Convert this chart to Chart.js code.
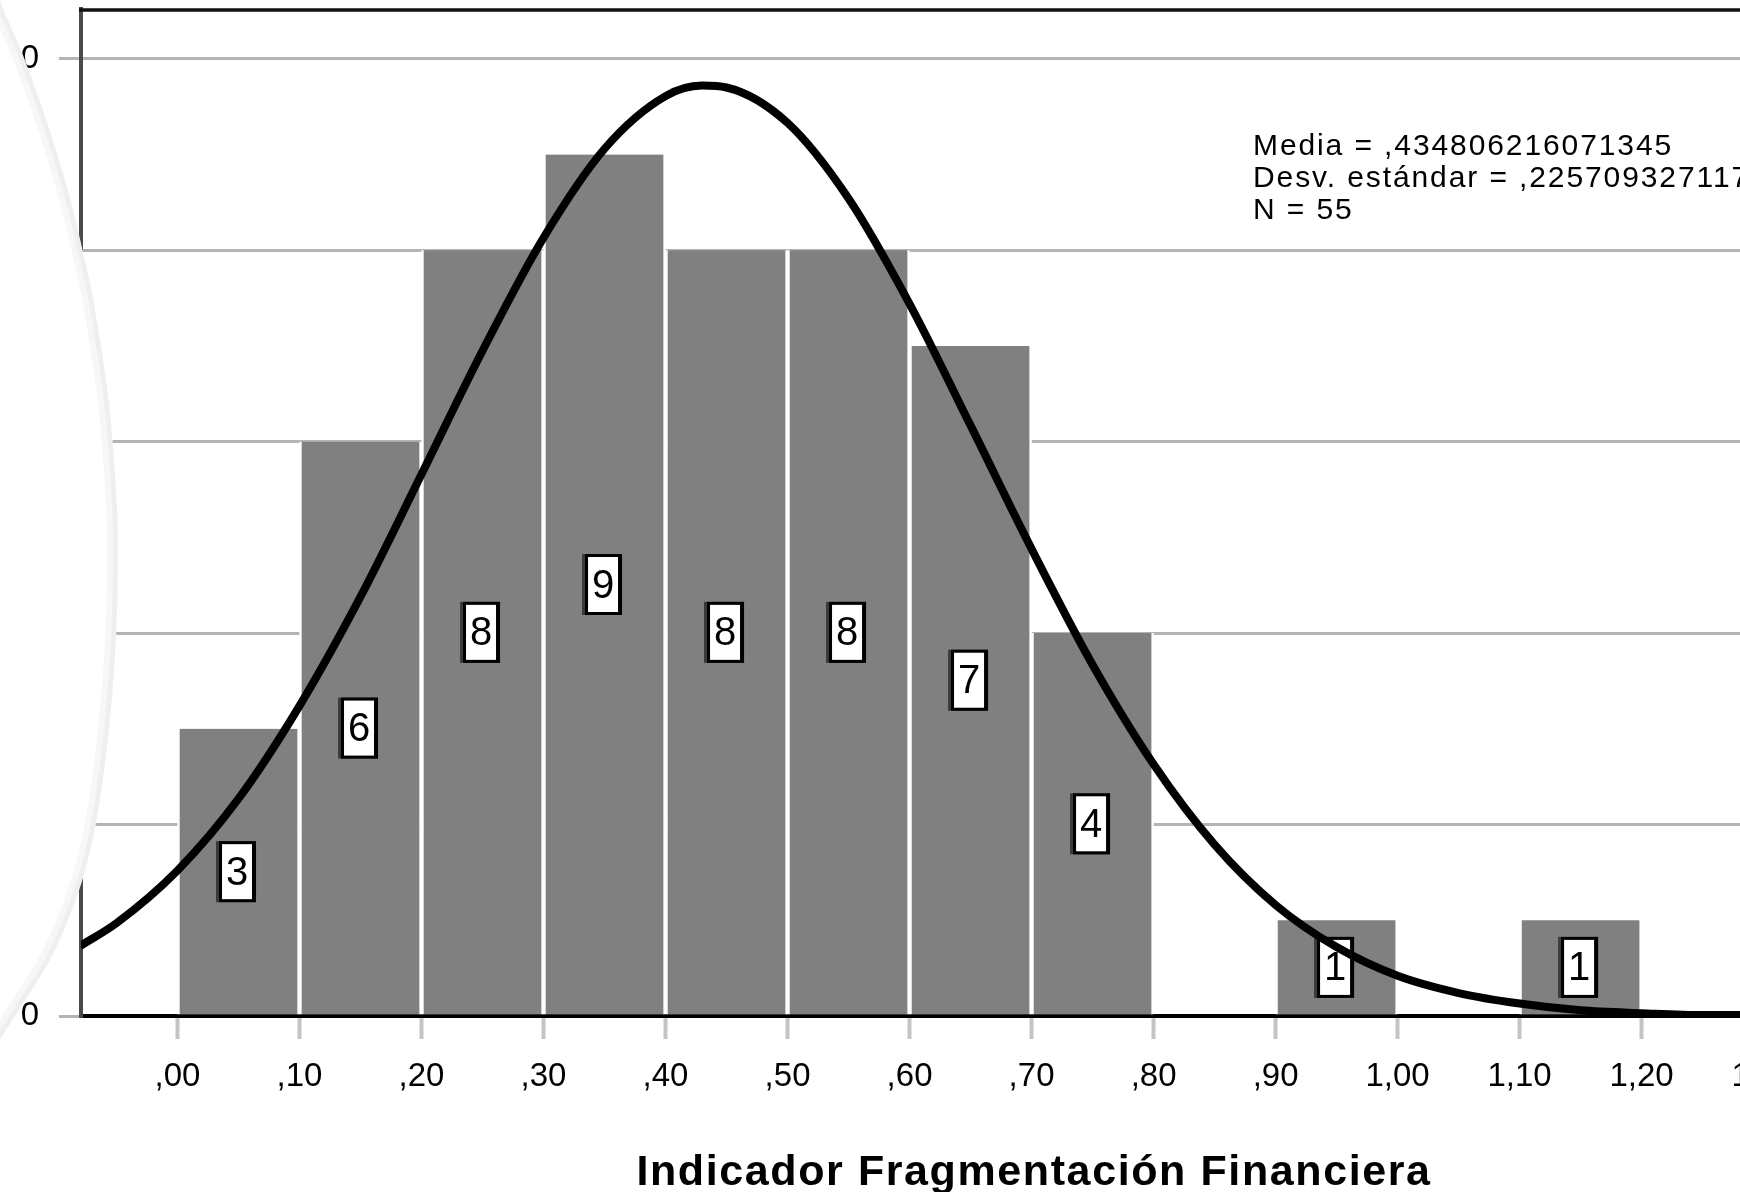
<!DOCTYPE html>
<html>
<head>
<meta charset="utf-8">
<script src="https://cdn.jsdelivr.net/npm/chart.js@4.4.0/dist/chart.umd.min.js"></script>
<style>
    html, body { margin: 0; padding: 0; background: #fff; overflow: hidden; width: 1740px; height: 1192px; }
    canvas { display: block; }
</style>
</head>
<body>
<canvas id="histChart" width="1800" height="1192"></canvas>
<script>
// Histogram bins (width 0,10) and counts
const binCenters = [0.05, 0.15, 0.25, 0.35, 0.45, 0.55, 0.65, 0.75, 0.85, 0.95, 1.05, 1.15];
const binCounts = [3, 6, 8, 9, 8, 8, 7, 4, 0, 1, 0, 1];

// Normal curve
const curveX = [-0.08, -0.05, 0.00, 0.05, 0.10, 0.15, 0.20, 0.25, 0.30, 0.35, 0.40, 0.43, 0.45, 0.50, 0.55, 0.60, 0.65, 0.70, 0.75, 0.80, 0.85, 0.90, 0.95, 1.00, 1.05, 1.10, 1.15, 1.20, 1.25, 1.30, 1.35];
const curveY = [0.73, 0.97, 1.52, 2.27, 3.24, 4.38, 5.66, 6.95, 8.13, 9.06, 9.61, 9.72, 9.70, 9.33, 8.54, 7.44, 6.17, 4.88, 3.67, 2.63, 1.79, 1.16, 0.72, 0.42, 0.24, 0.13, 0.06, 0.03, 0.01, 0.01, 0.00];

const statLines = ['Media = ,434806216071345', 'Desv. estándar = ,225709327117886', 'N = 55'];
const xTitle = 'Indicador Fragmentación Financiera';

const tickFont = "'Liberation Sans', Arial, sans-serif";

// Format ticks the SPSS way: ,10  1,00
function formatTick(v) {
    let s = v.toFixed(2).replace('.', ',');
    if (s.startsWith('0,')) s = s.slice(1);
    return s;
}

// White boxes with the count in the middle of each bar
const barLabels = {
    id: 'barLabels',
    afterDatasetDraw(chart, args) {
        if (args.index !== 0) return;
        const ctx = chart.ctx;
        ctx.save();
        args.meta.data.forEach((bar, i) => {
            const n = binCounts[i];
            if (!n) return;
            const cx = bar.x;
            const cy = (bar.y + bar.base) / 2;
            ctx.fillStyle = '#3a3a3a';
            ctx.fillRect(cx - 22.5, cy - 30.5, 40, 61);
            ctx.fillStyle = '#000';
            ctx.fillRect(cx - 19.5, cy - 30.5, 37, 61);
            ctx.fillStyle = '#fff';
            ctx.fillRect(cx - 16.5, cy - 27.5, 30, 55);
            ctx.fillStyle = '#000';
            ctx.font = '40px ' + tickFont;
            ctx.textAlign = 'center';
            ctx.textBaseline = 'middle';
            ctx.fillText(String(n), cx - 1.5, cy + 2);
        });
        ctx.restore();
    }
};

// Edge of the page curl on the left
function curlPath(ctx, closed) {
    const pts = [[-8, -40], [0, 0], [21, 50], [39.5, 100], [56, 150], [70.5, 200], [83, 252], [93.4, 300],
        [108.7, 400], [116.7, 500], [118, 560], [116, 640], [110, 720], [100, 800], [88, 860],
        [72, 910], [50, 960], [22, 1005], [0, 1040], [-20, 1075]];
    ctx.beginPath();
    if (closed) {
        ctx.moveTo(-40, -40);
        ctx.lineTo(pts[0][0], pts[0][1]);
    } else {
        ctx.moveTo(pts[0][0], pts[0][1]);
    }
    for (let i = 0; i < pts.length - 1; i++) {
        const p0 = pts[i - 1] || pts[i];
        const p1 = pts[i];
        const p2 = pts[i + 1];
        const p3 = pts[i + 2] || p2;
        ctx.bezierCurveTo(
            p1[0] + (p2[0] - p0[0]) / 6, p1[1] + (p2[1] - p0[1]) / 6,
            p2[0] - (p3[0] - p1[0]) / 6, p2[1] - (p3[1] - p1[1]) / 6,
            p2[0], p2[1]);
    }
    if (closed) {
        ctx.lineTo(-40, 1230);
        ctx.closePath();
    }
}

// Frame, axis title, statistics and the page curl
const decorations = {
    id: 'decorations',
    afterDraw(chart) {
        const ctx = chart.ctx;
        const area = chart.chartArea;
        ctx.save();
        ctx.strokeStyle = '#111';
        ctx.lineWidth = 3.5;
        ctx.beginPath();
        ctx.moveTo(area.left - 2, area.top + 1);
        ctx.lineTo(area.right, area.top + 1);
        ctx.stroke();

        ctx.fillStyle = '#000';
        ctx.font = 'bold 43px "Liberation Sans", Arial, sans-serif';
        ctx.letterSpacing = '1.6px';
        ctx.textAlign = 'center';
        ctx.textBaseline = 'alphabetic';
        ctx.fillText(xTitle, 1034, 1185);

        ctx.font = '30px "Liberation Sans", Arial, sans-serif';
        ctx.letterSpacing = '1.9px';
        ctx.textAlign = 'left';
        statLines.forEach((line, i) => {
            ctx.fillText(line, 1253, 155 + i * 32);
        });
        ctx.letterSpacing = '0px';

        curlPath(ctx, true);
        ctx.fillStyle = '#fff';
        ctx.fill();
        ctx.clip();
        curlPath(ctx, false);
        ctx.strokeStyle = 'rgba(0,0,0,0.03)';
        ctx.lineWidth = 22;
        ctx.stroke();
        ctx.lineWidth = 10;
        ctx.stroke();
        ctx.restore();
    }
};

const ctx = document.getElementById('histChart').getContext('2d');
new Chart(ctx, {
    type: 'bar',
    data: {
        datasets: [
            {
                type: 'bar',
                data: binCenters.map((x, i) => ({ x: x, y: binCounts[i] })),
                backgroundColor: '#808080',
                borderColor: '#ffffff',
                borderWidth: { left: 2.5, right: 2.5, top: 0, bottom: 0 },
                borderSkipped: false,
                barPercentage: 1,
                categoryPercentage: 1,
                order: 2
            },
            {
                type: 'line',
                data: curveX.map((x, i) => ({ x: x, y: curveY[i] })),
                borderColor: '#000',
                borderWidth: 8,
                pointRadius: 0,
                fill: false,
                cubicInterpolationMode: 'monotone',
                clip: 0,
                order: 1
            }
        ]
    },
    options: {
        responsive: false,
        animation: false,
        devicePixelRatio: 1,
        layout: { padding: { top: 9, right: 12, bottom: 0, left: 0 } },
        plugins: {
            legend: { display: false },
            tooltip: { enabled: false }
        },
        scales: {
            x: {
                type: 'linear',
                offset: false,
                min: -0.0791,
                max: 1.32,
                afterFit: (scale) => {
                    scale.height = 176;
                    scale.paddingLeft = 0;
                    scale.paddingRight = 0;
                },
                border: { display: true, color: '#000', width: 4 },
                grid: { offset: false, drawOnChartArea: false, drawTicks: true, tickLength: 23, tickColor: '#c4c4c4', tickWidth: 4 },
                ticks: {
                    stepSize: 0.1,
                    includeBounds: false,
                    autoSkip: false,
                    maxRotation: 0,
                    padding: 18,
                    color: '#000',
                    font: { family: tickFont, size: 33 },
                    callback: (v) => formatTick(v)
                }
            },
            y: {
                min: 0,
                max: 10.52,
                afterFit: (scale) => {
                    scale.width = 81;
                    scale.paddingTop = 0;
                    scale.paddingBottom = 0;
                },
                border: { display: true, color: '#4a4a4a', width: 4 },
                grid: { color: '#b4b4b4', lineWidth: 3, tickLength: 22, tickColor: '#b4b4b4', tickWidth: 3 },
                ticks: {
                    stepSize: 2,
                    includeBounds: false,
                    padding: 20,
                    color: '#000',
                    font: { family: tickFont, size: 33 }
                }
            }
        }
    },
    plugins: [barLabels, decorations]
});
</script>
</body>
</html>
